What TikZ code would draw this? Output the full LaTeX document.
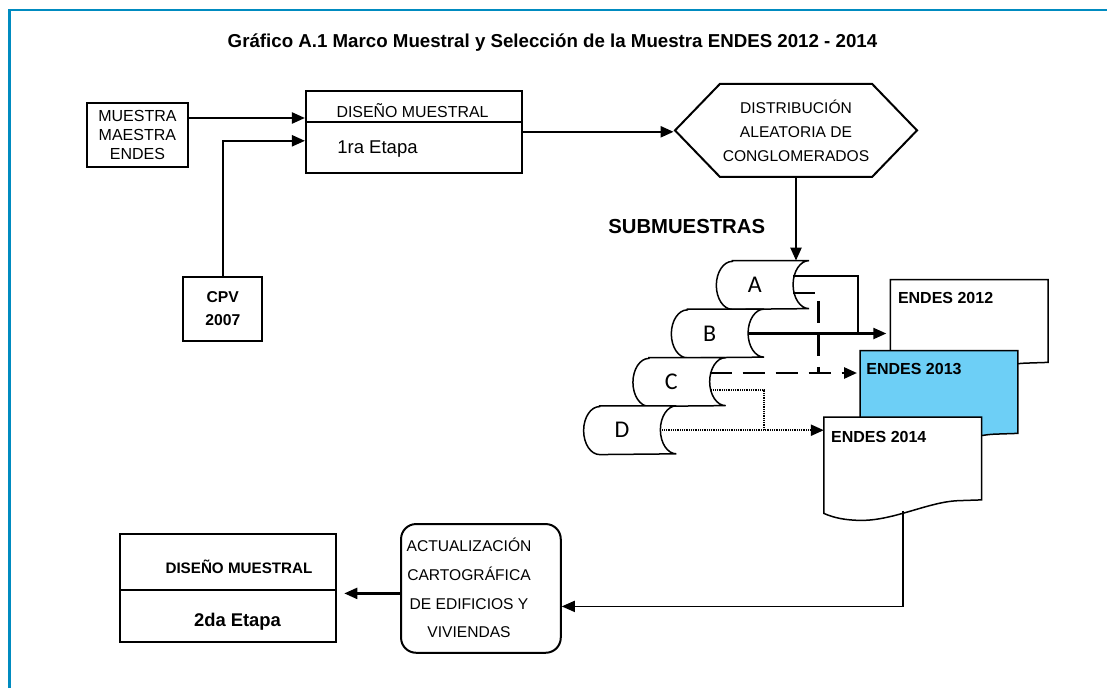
\documentclass[tikz,border=0pt]{standalone}
\usepackage{fontspec}
\setmainfont{Liberation Sans}
\newfontfamily\scrollfont{Carlito}
\usepackage{tikz}
\usetikzlibrary{
  arrows.meta,
  shapes.symbols,
  backgrounds
}
\usepackage{xcolor}
\definecolor{framec}{RGB}{0,139,192}
\definecolor{endesblue}{RGB}{109,207,246}
\tikzset{every picture/.style={line width=0.75pt}}

\newcommand{\fsz}[2]{\fontsize{#1}{#2}\selectfont}

\tikzset{
  box/.style={draw, line width=2pt, inner sep=0pt},
  txt/.style={inner sep=0pt},
  link/.style={line width=2.2pt, -{Triangle[length=13pt,width=11pt]}},
  dashline/.style={line width=2.6pt, dash pattern=on 22pt off 11pt},
  dotline/.style={line width=2.2pt, dash pattern=on 1pt off 0.8pt},
  hexbox/.style={shape=signal, signal to=west and east, signal pointer angle=92,
    draw, line width=2pt, minimum width=242pt, minimum height=93pt, inner sep=0pt,
    align=center, font=\fsz{15.6}{24}},
  scrollbox/.style={minimum width=76pt, minimum height=48pt, inner sep=0pt,
    font=\scrollfont\fsz{24}{24}},
  docbox/.style={minimum width=157pt, minimum height=82pt, inner sep=0pt},
  doclabel/.style={txt, anchor=base west, font=\bfseries\fsz{16}{16}}
}

% rollo de submuestra
\newcommand{\drawscroll}[1]{%
  \draw[line width=1.5pt, fill=white] ([xshift=16pt]#1.north west) -- ([xshift=16pt]#1.north east)
    arc[start angle=90, end angle=270, x radius=16pt, y radius=24pt]
    -- ([xshift=16pt]#1.south west)
    arc[start angle=270, end angle=90, x radius=16pt, y radius=24pt] -- cycle;}

% hoja de documento
\newcommand{\drawdoc}[2]{%
  \draw[line width=1.5pt, fill=#2] (#1.south east) -- (#1.north east) -- (#1.north west)
    -- ([yshift=-13.5pt]#1.south west)
    .. controls ([xshift=10pt,yshift=-18pt]#1.south west) and ([xshift=22pt,yshift=-20.5pt]#1.south west) .. ([xshift=38pt,yshift=-20.5pt]#1.south west)
    .. controls ([xshift=70pt,yshift=-20.5pt]#1.south west) and ([xshift=105pt,yshift=-2pt]#1.south west) .. ([xshift=134pt,yshift=-0.8pt]#1.south west)
    -- cycle;}

\begin{document}
\begin{tikzpicture}[x=1pt, y=1pt]
\useasboundingbox (0,0) rectangle (1107,-688);

% Marco
\draw[framec, line width=2.4pt] (9.4,-688) -- (9.4,-10) -- (1107,-10);

% Titulo
\node[txt, anchor=base, font=\bfseries\fsz{18.7}{20}] (title) at (552.5,-47.7)
  {Gráfico A.1 Marco Muestral y Selección de la Muestra ENDES 2012 - 2014};

% Primera etapa
\node[box, minimum width=101pt, minimum height=64pt, align=center, font=\fsz{16}{19.3}] (mm) at (137.4,-135) {MUESTRA\\MAESTRA\\ENDES};
\node[box, minimum width=79pt, minimum height=64pt, align=center, font=\bfseries\fsz{15.7}{23}] (cpv) at (222.8,-308.8) {CPV\\2007};
\node[box, minimum width=215.7pt, minimum height=81.7pt] (dm1) at (413.8,-131.8) {};
\draw[line width=2pt] ([yshift=9.5pt]dm1.west) -- ([yshift=9.5pt]dm1.east);
\node[txt, anchor=base, font=\fsz{15.9}{16}] (dm1a) at (412.5,-117.7) {DISEÑO MUESTRAL};
\node[txt, anchor=base west, font=\fsz{18.5}{19}] (dm1b) at (337,-153.3) {1ra Etapa};

\node[hexbox] (dist) at (796,-130.4) {DISTRIBUCIÓN\\ALEATORIA DE\\CONGLOMERADOS};

\draw[link] ([yshift=17pt]mm.east) -- ([yshift=17pt]mm.east -| dm1.west);
\draw[link] (cpv.north) |- ([yshift=-9pt]dm1.west);
\draw[link] (dm1.east) -- (dm1.east -| dist.west);

% Submuestras
\node[txt, anchor=base, font=\bfseries\fsz{20.3}{21}] (subm) at (686.7,-233.3) {SUBMUESTRAS};
\node[scrollbox] (sa) at (754.7,-285) {A};
\node[scrollbox] (sb) at (709.7,-333.5) {B};
\node[scrollbox] (sc) at (671.3,-382) {C};
\node[scrollbox] (sd) at (622,-430.2) {D};
\begin{scope}[on background layer]
  \foreach \s in {sa,sb,sc,sd} {\drawscroll{\s}}
\end{scope}

\draw[link] (dist.south) -- (dist.south |- sa.north);

% Encuestas
\node[docbox] (e12) at (969.2,-321) {};
\drawdoc{e12}{white}
\node[doclabel] (e12t) at ([xshift=7.3pt,yshift=-24.3pt]e12.north west) {ENDES 2012};
\node[docbox] (e13) at (938.9,-392) {};
\drawdoc{e13}{endesblue}
\node[doclabel] (e13t) at ([xshift=6pt,yshift=-24pt]e13.north west) {ENDES 2013};
\node[docbox] (e14) at (902.7,-458.5) {};
\drawdoc{e14}{white}
\node[doclabel] (e14t) at ([xshift=7pt,yshift=-25pt]e14.north west) {ENDES 2014};

\coordinate (j1) at (857.7,-333.5);
\coordinate (j2) at (818.3,-373.3);
\coordinate (j3) at (764.3,-430.2);
\draw[line width=2.2pt] ([yshift=9pt]sa.east) -| (j1);
\draw[link, shorten >=4pt] (sb.east) -- (sb.east -| e12.west);
\draw[dashline] ([yshift=-8pt]sa.east) -| (j2);
\draw[dashline, -{Triangle[length=13pt,width=11pt]}, shorten >=3pt] ([yshift=9pt]sc.east) -- ([yshift=9pt]sc.east -| e13.west);
\draw[dotline] ([yshift=-8pt]sc.east) -| (j3);
\draw[dotline, -{Triangle[length=13pt,width=11pt]}] (sd.east) -- (sd.east -| e14.west);

% Segunda etapa
\node[box, rounded corners=15pt, minimum width=159.7pt, minimum height=128.7pt] (actbox) at (480.9,-588.4) {};
\node[txt, align=center, font=\fsz{15.6}{28.7}] (act) at (469,-588) {ACTUALIZACIÓN\\CARTOGRÁFICA\\DE EDIFICIOS Y\\VIVIENDAS};
\node[box, minimum width=215.7pt, minimum height=108pt] (dm2) at (227.85,-588.3) {};
\draw[line width=2pt] ([yshift=-1.7pt]dm2.west) -- ([yshift=-1.7pt]dm2.east);
\node[txt, anchor=base, font=\bfseries\fsz{15.2}{16}] (dm2a) at (239,-573.3) {DISEÑO MUESTRAL};
\node[txt, anchor=base, font=\bfseries\fsz{18.4}{19}] (dm2b) at (237.5,-626.7) {2da Etapa};

\draw[link, line width=1.6pt] ([xshift=79pt,yshift=-11pt]e14.south west) |- ([yshift=-18pt]actbox.east);
\draw[link, shorten >=7.6pt] ([yshift=-5pt]actbox.west) -- ([yshift=-5pt]actbox.west -| dm2.east);
\end{tikzpicture}
\end{document}
